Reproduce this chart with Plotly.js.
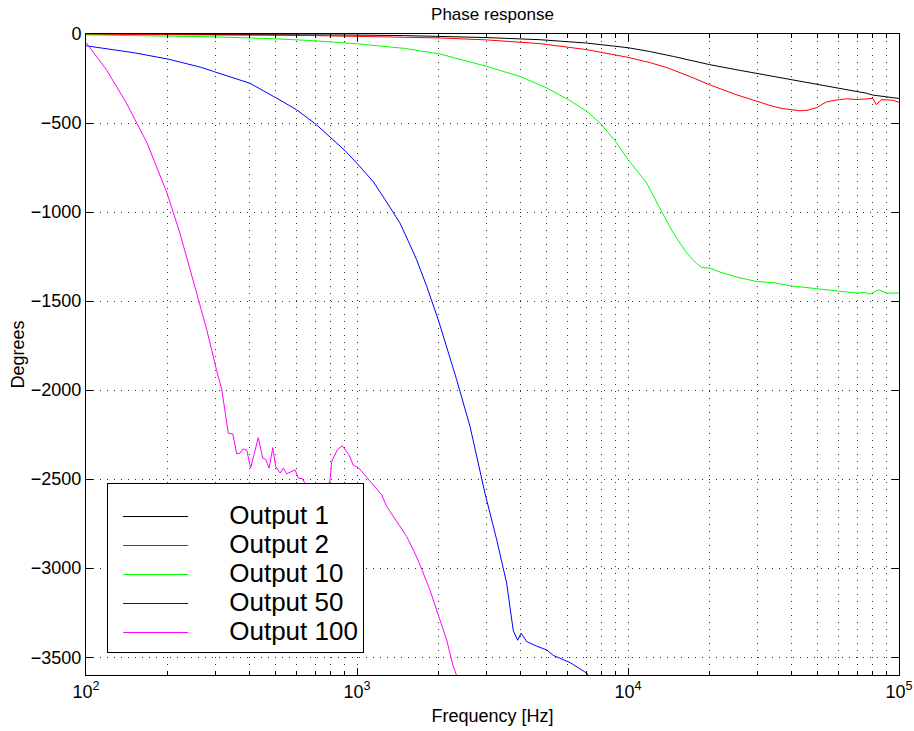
<!DOCTYPE html>
<html>
<head>
<meta charset="utf-8">
<script src="https://cdn.plot.ly/plotly-3.0.1.min.js"></script>
<style>html,body{margin:0;padding:0;background:#fff;}</style>
</head>
<body>
<div id="chart" style="width:914px;height:731px;"></div>
<script>
// ---- data ----
const seriesNames = ['Output 1', 'Output 2', 'Output 10', 'Output 50', 'Output 100'];
const seriesColors = ['#000000', '#ff0000', '#00ff00', '#0000ff', '#ff00ff'];

const freq1 = [100, 200, 300, 500, 700, 1000, 1500, 2000, 3000, 4730, 7050, 10000, 12000, 14700, 20000, 25000, 30000, 40000, 50000, 60000, 70000, 76000, 80000, 84000, 90000, 100000];
const phase1 = [0, -1, -2, -3, -4, -6, -9, -13, -20, -32, -51, -77, -98, -126, -172, -200, -222, -258, -282, -303, -322, -333, -343, -347, -352, -362];

const freq2 = [100, 200, 300, 500, 700, 1000, 1500, 2000, 3000, 4730, 7050, 10000, 12000, 14000, 17000, 20000, 25000, 30000, 34000, 37000, 40000, 43000, 46000, 50000, 52000, 54000, 58000, 64000, 70000, 76000, 80000, 82500, 86000, 90000, 95000, 100000];
const phase2 = [-2, -3, -5, -7, -9, -13, -17, -22, -33, -54, -88, -131, -160, -190, -240, -285, -340, -379, -405, -418, -425, -431, -428, -412, -395, -382, -372, -364, -368, -362, -362, -397, -369, -370, -372, -384];

const freq3 = [100, 200, 300, 500, 700, 1000, 1500, 2022, 3013, 3990, 5010, 6030, 7050, 7890, 8960, 10000, 11720, 13300, 14700, 16470, 17930, 18700, 20090, 21850, 25150, 29840, 35380, 39630, 49700, 58900, 69800, 75000, 78200, 83900, 90200, 100000];
const phase3 = [-5, -11, -16, -27, -38, -55, -81, -112, -182, -238, -303, -369, -435, -500, -600, -705, -837, -997, -1118, -1230, -1290, -1311, -1315, -1337, -1365, -1390, -1399, -1414, -1431, -1440, -1455, -1452, -1461, -1437, -1455, -1455];

const freq4 = [100, 150, 201, 264, 295, 403, 506, 598, 709, 818, 903, 998, 1070, 1149, 1269, 1343, 1441, 1542, 1660, 1811, 1995, 2333, 2612, 2966, 3278, 3566, 3774, 3918, 4030, 4228, 4603, 5010, 5300, 6110, 7050, 7300];
const phase4 = [-66, -105, -141, -186, -210, -277, -361, -425, -510, -594, -655, -725, -775, -830, -930, -990, -1062, -1160, -1268, -1420, -1605, -1942, -2204, -2579, -2841, -3084, -3352, -3405, -3365, -3412, -3438, -3459, -3490, -3530, -3590, -3625];

const freq5 = [100, 119, 141, 168, 199, 222, 256, 279, 303, 317, 335, 348, 360, 370, 380, 392, 405, 417, 432, 449, 460, 474, 489, 501, 520, 535, 550, 591, 607, 628, 637, 680, 740, 794, 807, 846, 883, 934, 969, 1012, 1086, 1150, 1233, 1288, 1362, 1443, 1525, 1614, 1707, 1857, 1995, 2142, 2267, 2333];
const phase5 = [-47, -201, -388, -612, -893, -1118, -1455, -1661, -1886, -1998, -2242, -2246, -2358, -2354, -2330, -2338, -2438, -2354, -2267, -2382, -2388, -2438, -2323, -2429, -2466, -2438, -2470, -2448, -2494, -2497, -2513, -2600, -2620, -2510, -2400, -2335, -2313, -2363, -2422, -2435, -2489, -2532, -2588, -2654, -2710, -2766, -2822, -2897, -2981, -3122, -3262, -3403, -3553, -3605];

const xTickVals = [100, 1000, 10000, 100000];
const xTickText = ['10<sup>2</sup>', '10<sup>3</sup>', '10<sup>4</sup>', '10<sup>5</sup>'];
const yTickVals = [0, -500, -1000, -1500, -2000, -2500, -3000, -3500];

// ---- build ----
const xs = [freq1, freq2, freq3, freq4, freq5];
const ys = [phase1, phase2, phase3, phase4, phase5];
const pad = '\u00a0\u00a0\u00a0\u00a0\u00a0';
const traces = seriesNames.map((n, i) => ({
  type: 'scatter', mode: 'lines', x: xs[i], y: ys[i],
  name: '<span style="font-size:26px">' + pad + n + '</span>',
  line: {color: seriesColors[i], width: 1}
}));

const minorVals = [];
for (let d = 2; d <= 4; d++) for (let k = 2; k <= 9; k++) minorVals.push(k * Math.pow(10, d));

const gridDash = '1px,6px';
const layout = {
  width: 914, height: 731,
  margin: {l: 86, r: 15, t: 34, b: 56},
  paper_bgcolor: '#ffffff', plot_bgcolor: '#ffffff',
  font: {family: '"Liberation Sans", Arial, Helvetica, sans-serif', color: '#000', size: 18},
  title: {text: 'Phase response', font: {size: 17}, x: 0.5, xref: 'paper', xanchor: 'center', y: 1 - 14 / 731, yanchor: 'middle'},
  showlegend: true,
  legend: {
    x: 0.026, y: 0.0265 + 5 / 641, xanchor: 'left', yanchor: 'bottom',
    bgcolor: '#ffffff', bordercolor: '#000', borderwidth: 1,
    font: {size: 20}, itemwidth: 65, tracegroupgap: 0, indentation: 10,
    title: {text: '\u00a0', font: {size: 10}}
  },
  xaxis: {
    type: 'log', range: [2, 5],
    tickmode: 'array', tickvals: xTickVals, ticktext: xTickText,
    ticks: 'inside', ticklen: 7, tickcolor: '#000', tickwidth: 1,
    showline: true, linecolor: '#000', linewidth: 1, mirror: 'ticks',
    showgrid: true, gridcolor: '#333', gridwidth: 1, griddash: gridDash,
    zeroline: false, tickfont: {size: 18},
    minor: {tickmode: 'array', tickvals: minorVals, ticks: 'inside', ticklen: 4, tickcolor: '#000',
            showgrid: true, gridcolor: '#333', gridwidth: 1, griddash: gridDash},
    title: {text: 'Frequency [Hz]', font: {size: 18}, standoff: 8}
  },
  yaxis: {
    range: [-3600, 0],
    tickmode: 'array', tickvals: yTickVals,
    ticks: 'inside', ticklen: 7, tickcolor: '#000', tickwidth: 1,
    showline: true, linecolor: '#000', linewidth: 1, mirror: 'ticks',
    showgrid: true, gridcolor: '#333', gridwidth: 1, griddash: gridDash,
    zeroline: false, tickfont: {size: 18},
    title: {text: 'Degrees', font: {size: 18}, standoff: 1}
  }
};

Plotly.newPlot('chart', traces, layout, {displayModeBar: false, staticPlot: true});
</script>
</body>
</html>
